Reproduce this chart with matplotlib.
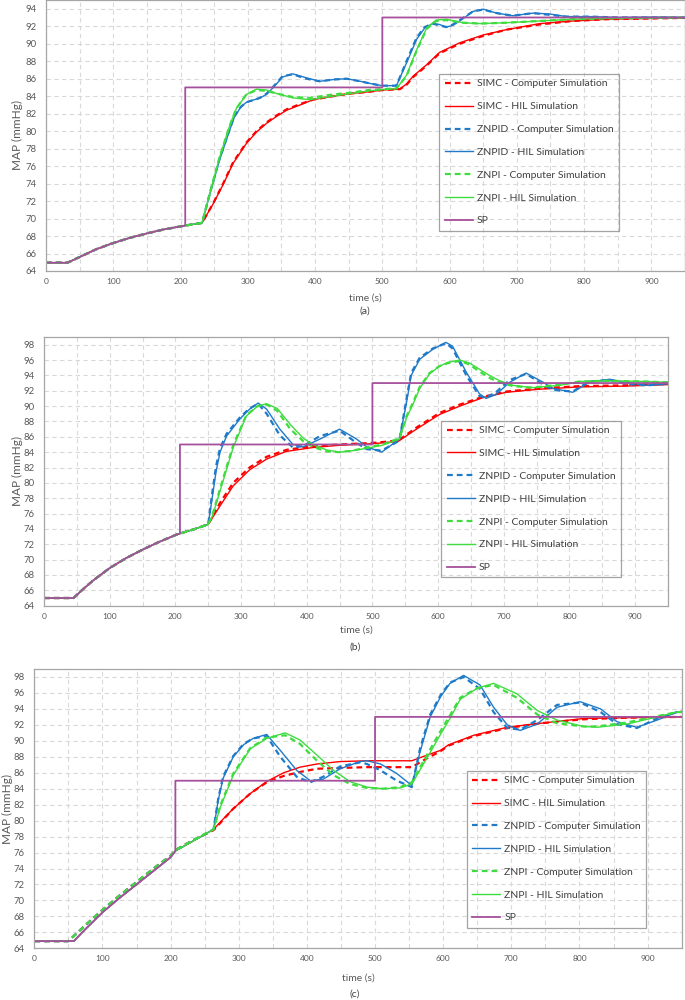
import numpy as np
import matplotlib
matplotlib.use('Agg')
import matplotlib.pyplot as plt

plt.rcParams['font.family'] = ['Lato', 'DejaVu Sans']

labels = ['SIMC - Computer Simulation', 'SIMC - HIL Simulation',
          'ZNPID - Computer Simulation', 'ZNPID - HIL Simulation',
          'ZNPI - Computer Simulation', 'ZNPI - HIL Simulation', 'SP']

# ---------------- panel (a) ----------------
t_pre_a = [0, 32, 50, 75, 100, 125, 150, 175, 200, 207, 232]
map_pre_a = [64.95, 64.95, 65.6, 66.5, 67.2, 67.8, 68.3, 68.75, 69.1, 69.2, 69.5]

t_simc_a = [232, 249, 264, 278, 298, 313, 328, 343, 358, 378, 397, 427, 453, 480, 500, 526, 536, 546,
            566, 585, 615, 650, 684, 734, 783, 833, 908, 950]
simc_cs_a = [69.5, 71.8, 74.1, 76.4, 78.7, 80.0, 81.0, 81.8, 82.5, 83.1, 83.6, 84.0, 84.3, 84.5, 84.7, 84.8,
             85.3, 86.2, 87.5, 88.9, 90.0, 90.9, 91.6, 92.2, 92.6, 92.8, 92.9, 92.95]
simc_hil_a = [69.5, 71.75, 74.0, 76.3, 78.6, 79.9, 80.9, 81.7, 82.4, 83.0, 83.6, 84.0, 84.3, 84.5, 84.7, 84.8,
              85.4, 86.3, 87.6, 89.0, 90.1, 91.0, 91.6, 92.3, 92.6, 92.8, 92.9, 92.95]

t_znpid_a = [232, 244, 258, 273, 280, 290, 298, 318, 328, 338, 352, 367, 387, 407, 427, 447, 467, 485, 500,
             521, 536, 551, 563, 575, 585, 595, 605, 615, 635, 650, 670, 694, 724, 749, 774, 809, 850, 908, 950]
znpid_cs_a = [69.5, 73.0, 76.8, 80.2, 81.7, 82.8, 83.3, 83.8, 84.3, 85.1, 86.3, 86.5, 86.0, 85.7, 85.9, 86.0,
              85.7, 85.4, 85.2, 85.2, 88.0, 90.7, 91.9, 92.3, 92.1, 91.9, 92.2, 92.7, 93.7, 93.9, 93.5, 93.2,
              93.5, 93.3, 93.1, 93.1, 93.0, 93.0, 93.0]
znpid_hil_a = [69.5, 72.9, 76.7, 80.1, 81.6, 82.8, 83.3, 83.8, 84.2, 85.0, 86.2, 86.55, 86.1, 85.7, 85.9, 86.0,
               85.7, 85.4, 85.2, 85.2, 87.8, 90.5, 91.8, 92.3, 92.2, 91.9, 92.1, 92.6, 93.7, 93.95, 93.5, 93.2,
               93.5, 93.4, 93.1, 93.1, 93.0, 93.05, 93.0]

t_znpi_a = [232, 244, 258, 273, 283, 298, 313, 328, 343, 367, 392, 427, 453, 480, 500, 521, 536, 551, 566,
            580, 595, 620, 645, 684, 734, 783, 833, 950]
znpi_cs_a = [69.5, 73.0, 77.0, 80.6, 82.6, 84.2, 84.7, 84.6, 84.3, 83.9, 83.8, 84.2, 84.4, 84.7, 84.8, 84.9,
             86.3, 89.2, 91.7, 92.6, 92.7, 92.4, 92.3, 92.4, 92.6, 92.8, 92.9, 93.0]
znpi_hil_a = [69.5, 73.0, 77.0, 80.6, 82.6, 84.2, 84.8, 84.7, 84.3, 83.8, 83.6, 84.0, 84.3, 84.6, 84.75, 84.85,
              86.4, 89.3, 91.8, 92.7, 92.8, 92.4, 92.3, 92.4, 92.6, 92.8, 92.9, 93.0]

sp_t_a = [0, 32, 50, 75, 100, 125, 150, 175, 200, 207, 207, 500, 500, 950]
sp_a = [64.95, 64.95, 65.6, 66.5, 67.2, 67.8, 68.3, 68.75, 69.1, 69.2, 85, 85, 93, 93]

# ---------------- panel (b) ----------------
t_pre_b = [0, 45, 60, 75, 100, 125, 150, 175, 200, 207, 230, 250]
map_pre_b = [65.0, 65.0, 66.2, 67.3, 68.9, 70.2, 71.3, 72.3, 73.2, 73.4, 74.0, 74.6]

t_simc_b = [250, 268, 288, 313, 339, 369, 409, 450, 500, 539, 567, 602, 633, 668, 704, 754, 815, 883, 950]
simc_cs_b = [74.6, 77.4, 80.0, 82.0, 83.4, 84.3, 84.8, 85.0, 85.2, 85.5, 87.2, 89.1, 90.2, 91.2, 91.9, 92.3,
             92.6, 92.7, 92.9]
simc_hil_b = [74.6, 77.0, 79.6, 81.7, 83.1, 84.1, 84.6, 84.9, 85.1, 85.4, 87.0, 88.9, 90.0, 91.1, 91.8, 92.2,
              92.5, 92.6, 92.8]

t_znpid_b = [250, 256, 262, 268, 278, 298, 313, 326, 339, 359, 379, 395, 420, 450, 476, 491, 514, 541, 552,
             559, 572, 592, 612, 622, 643, 663, 673, 688, 709, 734, 760, 775, 805, 830, 861, 886, 917, 950]
znpid_cs_b = [74.6, 78.6, 82.2, 84.5, 86.4, 88.5, 89.7, 90.3, 89.0, 86.2, 84.6, 84.8, 86.1, 86.8, 85.2, 84.4,
              84.2, 85.5, 91.0, 94.3, 96.3, 97.5, 98.2, 97.5, 94.0, 91.3, 91.1, 91.8, 93.4, 94.2, 92.8, 92.1,
              91.9, 93.2, 93.4, 92.9, 92.7, 92.9]
znpid_hil_b = [74.6, 78.0, 81.5, 84.0, 86.1, 88.3, 89.6, 90.4, 89.6, 87.0, 85.0, 84.7, 85.7, 87.0, 85.7, 84.7,
               84.0, 85.7, 90.5, 94.0, 96.1, 97.4, 98.3, 97.8, 94.4, 91.6, 91.0, 91.5, 93.1, 94.3, 93.1, 92.3,
               91.8, 93.1, 93.5, 93.1, 92.7, 92.9]

t_znpi_b = [250, 257, 270, 288, 308, 325, 339, 355, 375, 395, 409, 430, 450, 470, 491, 515, 541, 552, 562,
            572, 587, 602, 615, 633, 648, 663, 680, 694, 714, 744, 785, 815, 856, 917, 950]
znpi_cs_b = [74.6, 76.0, 79.8, 84.9, 88.8, 90.0, 90.2, 89.4, 87.0, 85.4, 84.7, 84.1, 84.0, 84.2, 84.6, 85.0,
             85.8, 88.7, 90.5, 92.5, 94.3, 95.2, 95.6, 95.9, 95.4, 94.5, 93.6, 93.1, 92.6, 92.4, 92.8, 93.2,
             93.3, 93.2, 93.1]
znpi_hil_b = [74.6, 75.8, 79.5, 84.6, 88.7, 90.0, 90.3, 89.7, 87.6, 85.8, 85.0, 84.3, 84.0, 84.2, 84.5, 84.9,
              85.7, 88.5, 90.3, 92.3, 94.2, 95.2, 95.7, 96.0, 95.6, 94.8, 93.9, 93.3, 92.7, 92.4, 92.7, 93.2,
              93.3, 93.2, 93.1]

sp_t_b = [0, 45, 60, 75, 100, 125, 150, 175, 200, 207, 207, 500, 500, 950]
sp_b = [65.0, 65.0, 66.2, 67.3, 68.9, 70.2, 71.3, 72.3, 73.2, 73.4, 85, 85, 93, 93]

# ---------------- panel (c) ----------------
t_pre_c = [0, 58, 75, 100, 125, 150, 175, 200, 207, 230, 263]
map_pre_c = [64.9, 64.9, 66.4, 68.5, 70.3, 72.0, 73.7, 75.4, 76.2, 77.3, 78.9]
t_pre_cs_c = [0, 50, 75, 100, 125, 150, 175, 200, 207, 230, 263]
map_pre_cs_c = [64.9, 64.9, 66.9, 68.8, 70.6, 72.3, 74.0, 75.6, 76.3, 77.4, 78.8]

t_simc_c = [263, 276, 292, 317, 341, 366, 390, 415, 449, 488, 530, 554, 576, 596, 608, 645, 694, 743, 806, 870, 950]
simc_cs_c = [78.8, 80.0, 81.5, 83.4, 84.8, 85.6, 86.1, 86.5, 86.6, 86.7, 86.7, 86.7, 87.8, 88.7, 89.4, 90.6,
             91.6, 92.2, 92.7, 92.9, 93.0]
simc_hil_c = [78.9, 80.1, 81.5, 83.4, 84.9, 86.0, 86.7, 87.1, 87.4, 87.5, 87.5, 87.5, 88.2, 88.8, 89.5, 90.7,
              91.7, 92.2, 92.8, 92.9, 93.0]

t_znpid_c = [263, 270, 277, 292, 307, 321, 341, 361, 385, 405, 424, 449, 478, 488, 508, 532, 554, 566, 581,
             596, 610, 630, 654, 674, 694, 713, 738, 767, 801, 831, 855, 884, 914, 943, 950]
znpid_cs_c = [78.9, 82.8, 85.5, 88.1, 89.6, 90.3, 90.6, 88.0, 85.5, 84.8, 85.5, 86.8, 87.3, 87.1, 86.3, 85.0,
              84.2, 89.0, 93.3, 95.7, 97.3, 98.0, 96.5, 93.6, 91.6, 91.4, 92.6, 94.5, 94.8, 93.6, 92.1, 91.6,
              92.8, 93.6, 93.6]
znpid_hil_c = [78.9, 82.6, 85.3, 88.0, 89.5, 90.3, 90.8, 88.8, 86.3, 85.0, 85.2, 86.5, 87.4, 87.5, 87.1, 85.9,
               84.4, 88.6, 93.0, 95.5, 97.2, 98.2, 97.0, 94.2, 92.0, 91.3, 92.1, 94.2, 94.9, 94.0, 92.4, 91.7,
               92.6, 93.6, 93.7]

t_znpi_c = [263, 273, 292, 317, 341, 368, 390, 415, 439, 463, 488, 512, 537, 554, 576, 596, 610, 625, 650,
            674, 708, 738, 767, 806, 826, 870, 909, 943, 950]
znpi_cs_c = [78.9, 81.9, 85.9, 89.1, 90.4, 90.7, 89.6, 87.5, 85.7, 84.6, 84.1, 84.0, 84.2, 84.8, 88.2, 91.2,
             93.2, 95.4, 96.6, 97.0, 95.4, 93.3, 92.2, 91.8, 91.8, 92.3, 93.0, 93.6, 93.6]
znpi_hil_c = [78.9, 81.7, 85.7, 89.0, 90.3, 91.0, 90.1, 88.2, 86.3, 84.9, 84.2, 84.0, 84.1, 84.6, 87.8, 90.8,
              92.8, 95.2, 96.6, 97.2, 95.9, 93.8, 92.6, 91.8, 91.7, 92.1, 92.9, 93.6, 93.6]

sp_t_c = [0, 58, 75, 100, 125, 150, 175, 200, 207, 207, 500, 500, 950]
sp_c = [64.9, 64.9, 66.4, 68.5, 70.3, 72.0, 73.7, 75.4, 76.2, 85, 85, 93, 93]

# colores estilo Excel
c_simc, c_znpid, c_znpi, c_sp = '#FF0000', '#1F7AC8', '#3EDC3E', '#A5509C'
txt_col = '#595959'

W, H = 685.0, 1000.0
fig = plt.figure(figsize=(6.85, 10), dpi=100)


def px_rect(x0, y0, x1, y1):
    # rectangulo en pixeles (origen arriba a la izquierda) -> fraccion de figura
    return [x0 / W, 1 - y1 / H, (x1 - x0) / W, (y1 - y0) / H]


def join(tp, vp, t, v):
    return list(tp[:-1]) + list(t), list(vp[:-1]) + list(v)


panels = [
    dict(rect=px_rect(46, 0, 685, 271), ytop=95, pre=(t_pre_a, map_pre_a), pre_cs=(t_pre_a, map_pre_a),
         simc=(t_simc_a, simc_cs_a, simc_hil_a), znpid=(t_znpid_a, znpid_cs_a, znpid_hil_a),
         znpi=(t_znpi_a, znpi_cs_a, znpi_hil_a), sp=(sp_t_a, sp_a),
         leg=(0.6155, 0.727), tlab=(365, 298), name='(a)', nlab=(365, 311), ylab_x=-0.036),
    dict(rect=px_rect(44, 337, 668, 605.7), ytop=99, pre=(t_pre_b, map_pre_b), pre_cs=(t_pre_b, map_pre_b),
         simc=(t_simc_b, simc_cs_b, simc_hil_b), znpid=(t_znpid_b, znpid_cs_b, znpid_hil_b),
         znpi=(t_znpi_b, znpi_cs_b, znpi_hil_b), sp=(sp_t_b, sp_b),
         leg=(0.637, 0.6885), tlab=(356, 630), name='(b)', nlab=(355, 647), ylab_x=-0.034),
    dict(rect=px_rect(34.3, 669, 681.7, 948.3), ytop=99, pre=(t_pre_c, map_pre_c), pre_cs=(t_pre_cs_c, map_pre_cs_c),
         simc=(t_simc_c, simc_cs_c, simc_hil_c), znpid=(t_znpid_c, znpid_cs_c, znpid_hil_c),
         znpi=(t_znpi_c, znpi_cs_c, znpi_hil_c), sp=(sp_t_c, sp_c),
         leg=(0.668, 0.635), tlab=(358, 978), name='(c)', nlab=(355, 994), ylab_x=-0.0335),
]

for p in panels:
    ax = fig.add_axes(p['rect'])
    handles = []
    for key, col in (('simc', c_simc), ('znpid', c_znpid), ('znpi', c_znpi)):
        t, v_cs, v_hil = p[key]
        tt, vv = join(p['pre_cs'][0], p['pre_cs'][1], t, v_cs)
        l1, = ax.plot(tt, vv, color=col, lw=1.6, ls=(0, (2.6, 1.8)))
        tt, vv = join(p['pre'][0], p['pre'][1], t, v_hil)
        l2, = ax.plot(tt, vv, color=col, lw=1.0)
        handles += [l1, l2]
    l_sp, = ax.plot(p['sp'][0], p['sp'][1], color=c_sp, lw=1.3)
    handles.append(l_sp)

    ax.set_xlim(0, 950)
    ax.set_ylim(64, p['ytop'])
    ax.set_xticks(range(0, 1000, 100))
    ax.set_xticks(range(50, 1000, 100), minor=True)
    ax.set_yticks(range(64, p['ytop'], 2))
    ax.grid(True, which='both', axis='x', color='#D9D9D9', lw=0.8, ls=(0, (4, 3)))
    ax.grid(True, which='major', axis='y', color='#D9D9D9', lw=0.8, ls=(0, (4, 3)))
    ax.set_axisbelow(True)
    ax.tick_params(axis='both', which='both', length=0, colors=txt_col)
    ax.tick_params(axis='x', labelsize=6, pad=5)
    ax.tick_params(axis='y', labelsize=6.8, pad=7)
    for s in ax.spines.values():
        s.set_color('#A6A6A6')
        s.set_linewidth(0.9)
    ax.set_ylabel('MAP (mmHg)', fontsize=8.5, color=txt_col)
    ax.yaxis.set_label_coords(p['ylab_x'], 0.5)

    leg = ax.legend(handles, labels, loc='upper left', bbox_to_anchor=p['leg'], borderaxespad=0,
                    fontsize=7.5, frameon=True, fancybox=False, edgecolor='#8C8C8C', facecolor='none',
                    labelspacing=1.3, handlelength=2.7, handletextpad=0.4, borderpad=0.5)
    leg.get_frame().set_linewidth(0.9)
    for tx in leg.get_texts():
        tx.set_color('#404040')

    fig.text(p['tlab'][0] / W, 1 - p['tlab'][1] / H, 'time (s)', ha='center', va='center',
             fontsize=7.5, color=txt_col)
    fig.text(p['nlab'][0] / W, 1 - p['nlab'][1] / H, p['name'], ha='center', va='center',
             fontsize=7.5, color='#404040')

fig.savefig('out.png', dpi=100)
